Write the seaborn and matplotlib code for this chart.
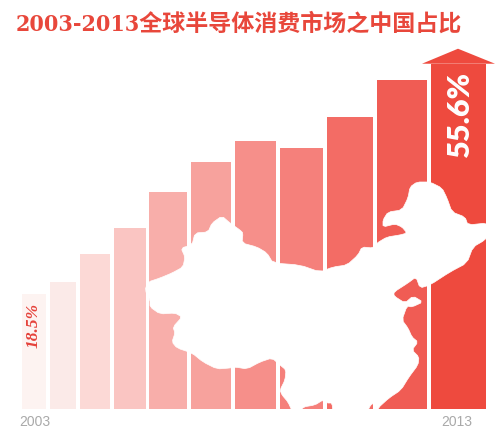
import matplotlib
matplotlib.use("Agg")
import matplotlib.pyplot as plt
import seaborn as sns
import pandas as pd

years = ["2003", "2004", "2005", "2006", "2007", "2008", "2009", "2010", "2011", "2012", "2013"]
share = [18.5, 20.4, 24.9, 29.1, 35.0, 39.7, 43.1, 42.0, 47.1, 52.9, 55.6]
title = "2003-2013全球半导体消费市场之中国占比"

# styling: bar colours and irregular bar extents (pixels)
colors = ["#fdf3f1", "#fbeae8", "#fcd9d6", "#fac5c2", "#f8aeaa", "#f7a29d",
          "#f68f8a", "#f5807b", "#f36c65", "#f05c54", "#ee4a3e"]
lefts = [22, 50, 80, 114, 149, 191, 235, 280, 327, 377, 431]
rights = [46, 76, 110, 146, 187, 231, 276, 323, 373, 427, 486]

# decorative silhouette of China (pixel coordinates), knocked out of the bars
china = [(145, 290), (148, 282), (160, 278), (172, 273), (183, 267), (185, 257), (181, 248), (192, 245),
         (195, 233), (208, 232), (212, 223), (222, 216), (230, 223), (240, 230), (243, 233), (242, 243),
         (257, 247), (267, 253), (273, 263), (300, 265), (320, 272), (333, 267), (347, 265), (358, 255),
         (362, 247), (373, 248), (377, 243), (387, 237), (400, 235), (407, 233), (402, 227), (395, 224),
         (383, 227), (383, 220), (388, 212), (402, 210), (408, 198), (410, 187), (417, 182), (430, 182),
         (442, 188), (447, 198), (452, 212), (465, 217), (468, 225), (487, 223), (493, 230), (485, 240),
         (473, 247), (467, 263), (450, 272), (430, 285), (420, 288), (416, 277), (408, 283), (394, 292),
         (394, 296), (405, 303), (413, 296), (423, 302), (412, 307), (407, 306), (402, 320), (408, 328),
         (412, 337), (418, 342), (412, 350), (419, 357), (418, 365), (409, 377), (401, 390), (389, 398),
         (378, 408), (378, 413), (373, 403), (370, 406), (367, 413), (333, 413), (332, 403), (327, 403),
         (323, 400), (315, 405), (303, 407), (300, 413), (293, 413), (288, 402), (282, 395), (280, 390),
         (285, 380), (286, 370), (280, 365), (272, 358), (260, 362), (247, 369), (235, 367), (230, 368),
         (217, 369), (203, 362), (192, 353), (177, 348), (172, 342), (175, 333), (173, 327), (182, 317),
         (175, 313), (160, 314), (150, 307), (150, 300)]


def soften(points):
    """One pass of corner cutting, so the silhouette edge is not angular."""
    out = []
    for (x0, y0), (x1, y1) in zip(points, points[1:] + points[:1]):
        out.append((0.8 * x0 + 0.2 * x1, 0.8 * y0 + 0.2 * y1))
        out.append((0.2 * x0 + 0.8 * x1, 0.2 * y0 + 0.8 * y1))
    return out


W, H = 500, 436
BASE, TOP = 409, 40
PX_PER_UNIT = 6.21

sns.set_theme(style="white")
plt.rcParams["font.family"] = ["Liberation Sans", "DejaVu Sans"]

fig = plt.figure(figsize=(W / 100, H / 100), dpi=100, facecolor="white")
ax = fig.add_axes([0, (H - BASE) / H, 1, (BASE - TOP) / H])

df = pd.DataFrame({"year": years, "share": share})
sns.barplot(data=df, x="year", y="share", hue="year", palette=colors, dodge=False,
            legend=False, saturation=1, width=1, linewidth=0, ax=ax)
for patch, l, r in zip(ax.patches, lefts, rights):
    patch.set_x(l)
    patch.set_width(r - l)

ax.set_xlim(0, W)
ax.set_ylim(0, (BASE - TOP) / PX_PER_UNIT)
sns.despine(ax=ax, left=True, bottom=True)
ax.set_xlabel("")
ax.set_ylabel("")
ax.set_yticks([])
ax.set_xticks([(lefts[0] + rights[0]) / 2 + 0.5, (lefts[-1] + rights[-1]) / 2 - 1.5])
ax.set_xticklabels([years[0], years[-1]], color="#a9a9a9", fontsize=10)
ax.tick_params(axis="x", length=0, pad=4.5)

# arrow head on the last bar
head_y = share[-1]
tip_y = head_y + 15 / PX_PER_UNIT
ax.fill([422, 458, 495], [head_y, tip_y, head_y], color=colors[-1], lw=0, clip_on=False)

# value labels
ax.text((lefts[-1] + rights[-1]) / 2 + 1, (BASE - 114) / PX_PER_UNIT, "55.6%", rotation=90,
        ha="center", va="center", color="white", fontsize=22, fontweight="heavy", family="Lato", zorder=6)
ax.text(33.5, (BASE - 325) / PX_PER_UNIT, "18.5%", rotation=90, ha="center", va="center",
        color="#e5423b", fontsize=12.5, fontweight="bold", fontstyle="italic",
        family="Liberation Serif", zorder=6)

# overlay for the silhouette
ov = fig.add_axes([0, 0, 1, 1], zorder=3)
ov.set_xlim(0, W)
ov.set_ylim(H, 0)
ov.axis("off")
ov.patch.set_alpha(0)
ov.fill(*zip(*soften(china)), color="white", lw=0.5, joinstyle="round")

fig.text(16 / W, 1 - 31 / H, title, color="#e8473b", fontsize=16.6, fontweight="bold",
         fontstretch="condensed", family=["DejaVu Serif", "Noto Sans CJK SC"], ha="left", va="baseline")

fig.savefig("out.png", dpi=100, facecolor="white")
